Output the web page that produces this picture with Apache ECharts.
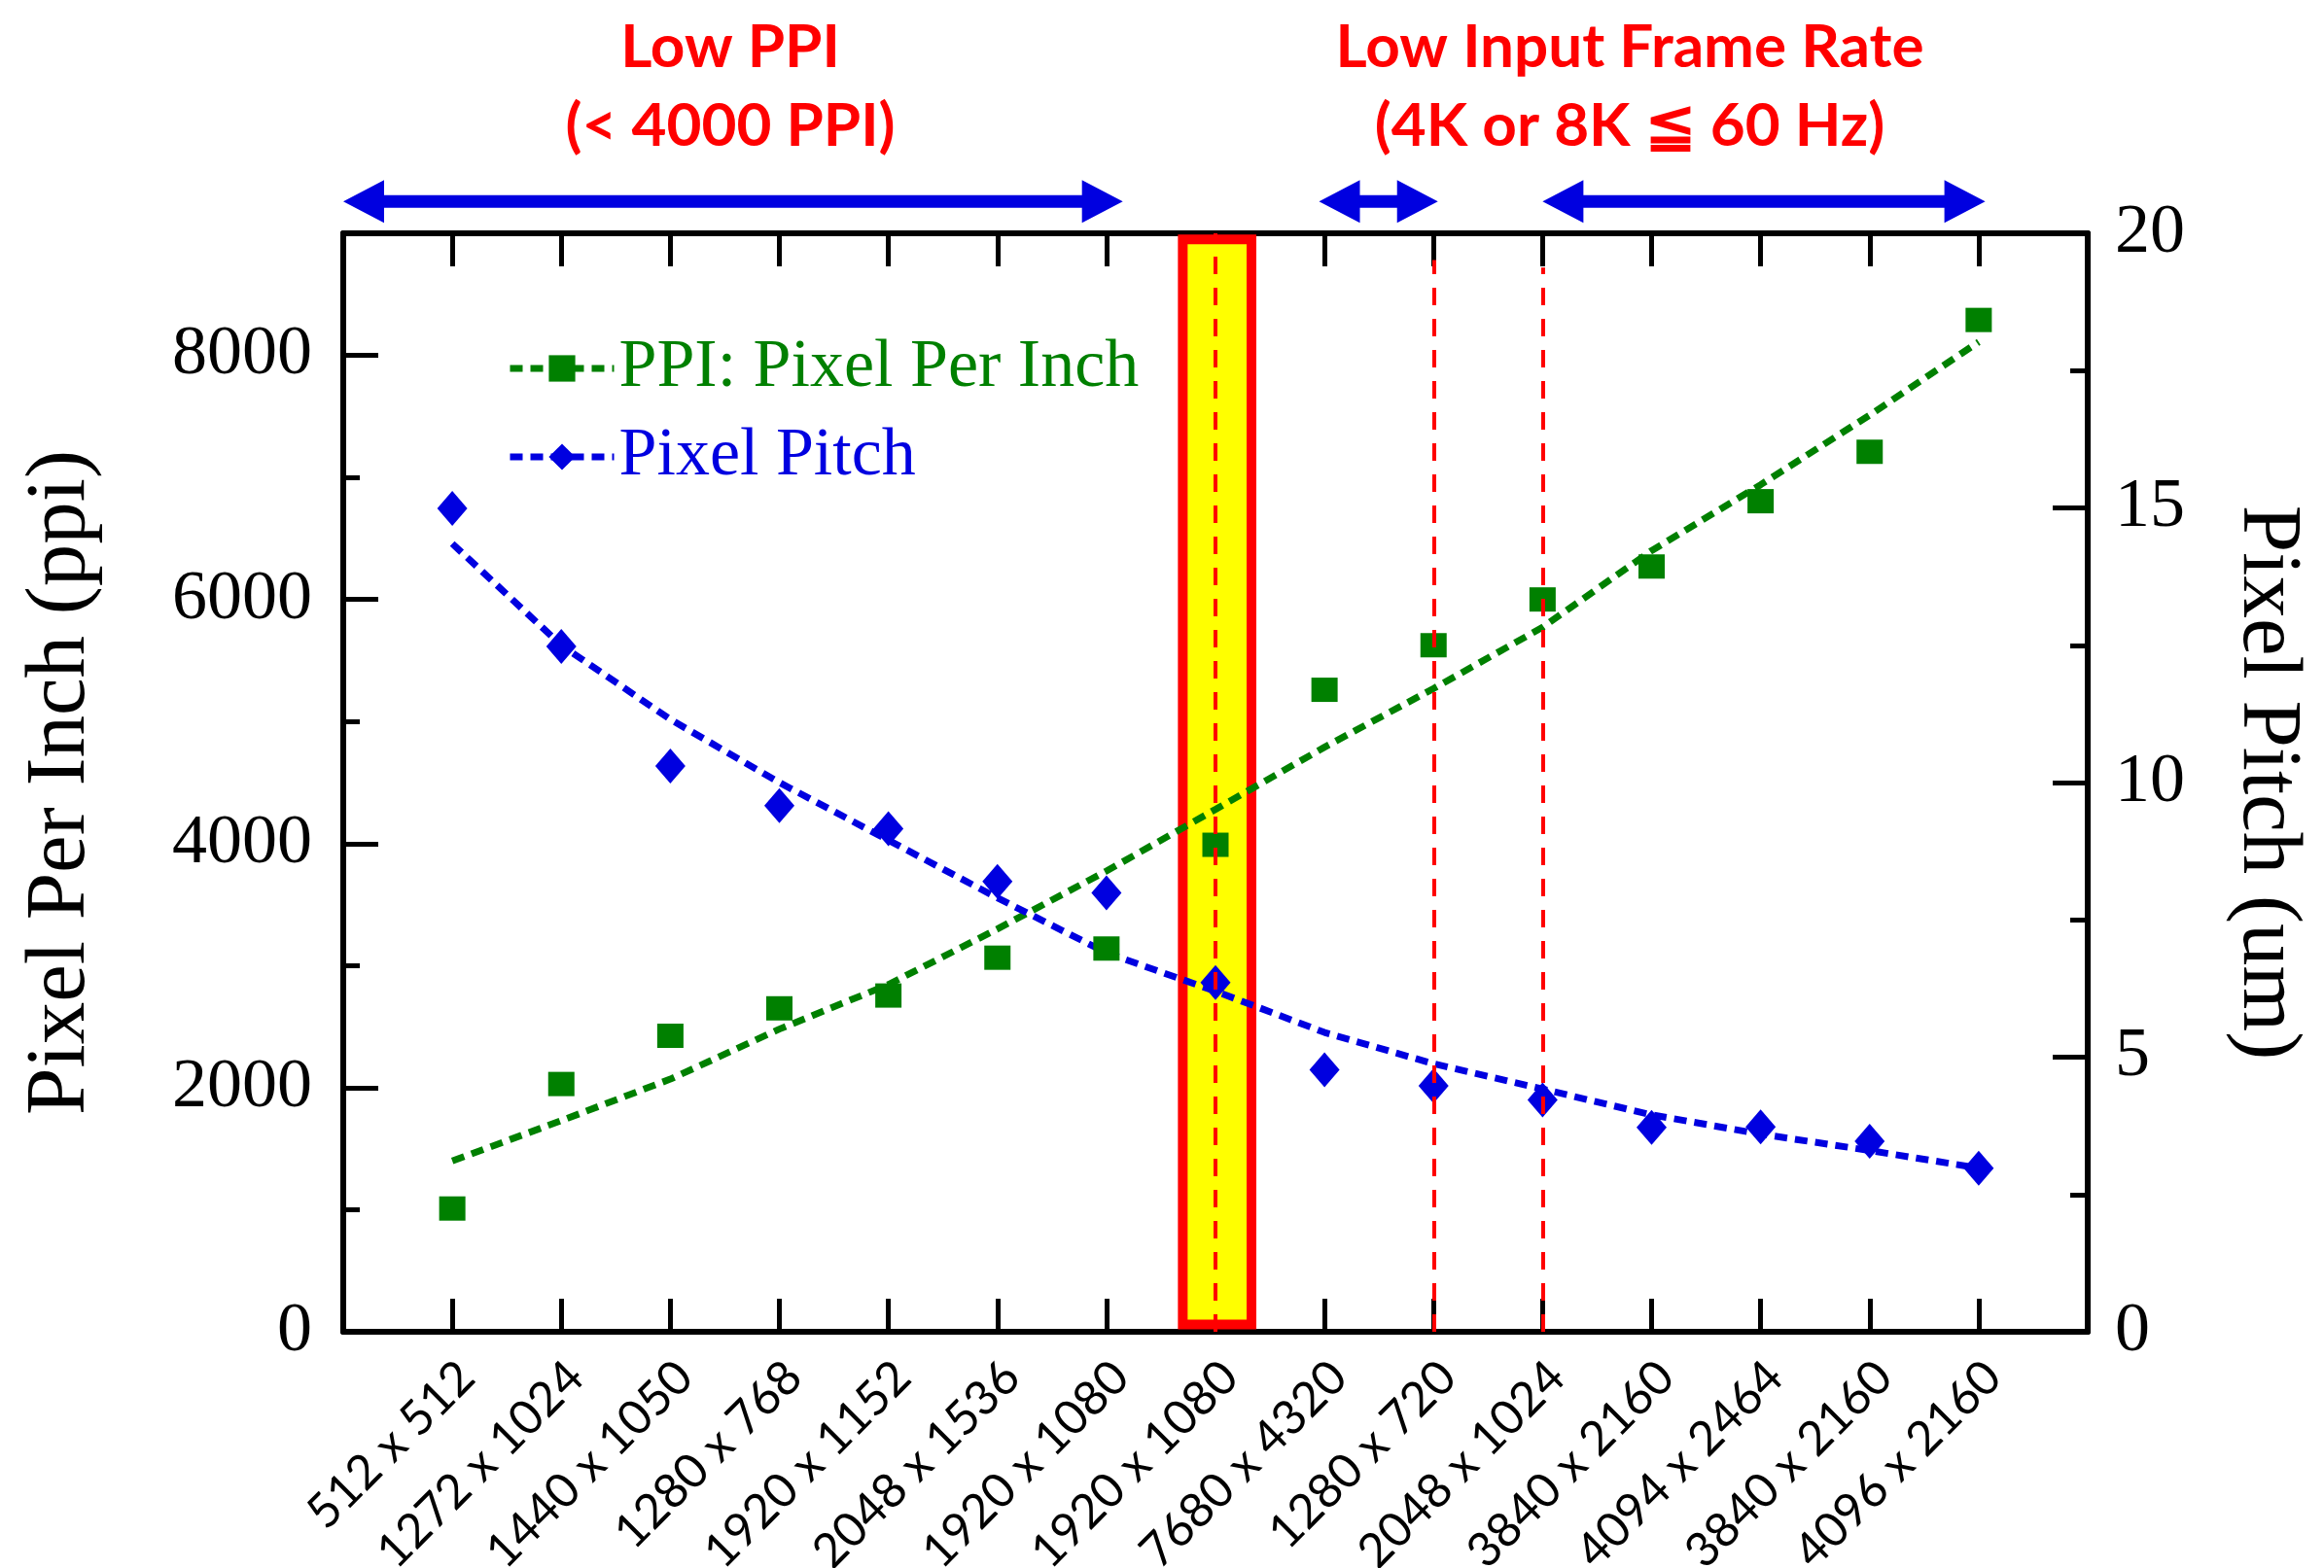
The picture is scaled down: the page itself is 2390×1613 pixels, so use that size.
<!DOCTYPE html>
<html>
<head>
<meta charset="utf-8">
<script src="https://cdn.jsdelivr.net/npm/echarts@6/dist/echarts.min.js"></script>
<style>
  html, body { margin: 0; background: #fff; }
  #chart { width: 2390px; height: 1613px; }
</style>
</head>
<body>
<div id="chart"></div>
<script>
// panel resolutions along the x axis
const resolutions = [
  '512 x 512', '1272 x 1024', '1440 x 1050', '1280 x 768', '1920 x 1152',
  '2048 x 1536', '1920 x 1080', '1920 x 1080', '7680 x 4320', '1280 x 720',
  '2048 x 1024', '3840 x 2160', '4094 x 2464', '3840 x 2160', '4096 x 2160'
];

// measured points and the dashed trend lines
const ppiMeasured = [1010, 2030, 2425, 2650, 2755, 3065, 3140, 3990, 5260, 5625, 6000, 6270, 6805, 7210, 8290];
const ppiTrend = [1400, 1730, 2070, 2480, 2845, 3300, 3775, 4280, 4790, 5270, 5772, 6400, 6940, 7510, 8110];
const pitchMeasured = [14.99, 12.48, 10.3, 9.58, 9.16, 8.2, 7.99, 6.36, 4.77, 4.48, 4.22, 3.72, 3.73, 3.47, 2.98];
const pitchTrend = [14.35, 12.5, 11.15, 10.0, 8.95, 7.9, 6.9, 6.2, 5.45, 4.88, 4.42, 3.95, 3.6, 3.3, 2.98];

const leftLabels = [0, 2000, 4000, 6000, 8000];

// annotations, in data units of the x axis / left y axis
const highlight = [7.7, 8.33];
const guides = [[8, 9000], [10, 8780], [11, 8720]];
const spans = [[0, 7.15], [8.95, 10.04], [11.0, 15.06]];
const notes = [
  { x: 3.55, lines: ['Low PPI', '(< 4000 PPI)'] },
  { x: 11.8, lines: ['Low Input Frame Rate', '(4K or 8K \u2266 60 Hz)'] }
];

const GREEN = '#008000';
const BLUE = '#0000e0';
const RED = '#ff0000';
const SERIF = 'Liberation Serif';
const SANS = 'Lato';

const xy = arr => arr.map((v, i) => [i + 1, v]);
const tickLine = () => ({ color: '#000', width: 5 });
const frame = () => ({ show: true, onZero: false, lineStyle: { color: '#000', width: 6 } });
const box = () => ({
  left: 353, right: 243, top: 240, bottom: 243,
  containLabel: false, outerBoundsMode: 'none'
});

const chart = echarts.init(document.getElementById('chart'));

chart.setOption({
  animation: false,
  grid: [box(), box()],
  xAxis: [
    {
      type: 'value', min: 0, max: 16, interval: 1, position: 'bottom',
      axisLine: frame(),
      axisTick: { show: true, inside: true, length: 34, lineStyle: tickLine() },
      splitLine: { show: false },
      axisLabel: {
        rotate: 45, margin: 24, fontFamily: SANS, fontSize: 49, color: '#000',
        verticalAlign: 'top', lineHeight: 42,
        formatter: v => resolutions[v - 1] || ''
      }
    },
    {
      type: 'value', min: 0, max: 16, interval: 1, position: 'top',
      axisLine: frame(),
      axisTick: { show: true, inside: true, length: 34, lineStyle: tickLine() },
      splitLine: { show: false },
      axisLabel: { show: false }
    },
    { gridIndex: 1, type: 'value', min: 0, max: 16, show: false }
  ],
  yAxis: [
    {
      type: 'value', min: 0, max: 9000, interval: 1000, position: 'left',
      axisLine: frame(),
      axisTick: { show: true, inside: true, length: 17, lineStyle: tickLine() },
      splitLine: { show: false },
      axisLabel: {
        margin: 32, fontFamily: SERIF, fontSize: 72, color: '#000',
        formatter: v => leftLabels.includes(v) ? String(v) : ''
      },
      name: 'Pixel Per Inch (ppi)', nameLocation: 'middle', nameGap: 246,
      nameTextStyle: { fontFamily: SERIF, fontSize: 87, color: '#000' }
    },
    {
      type: 'value', min: 0, max: 20, interval: 5, position: 'right',
      axisLine: frame(),
      axisTick: { show: true, inside: true, length: 36, lineStyle: tickLine() },
      minorTick: { show: true, splitNumber: 2, length: 18, lineStyle: tickLine() },
      splitLine: { show: false },
      minorSplitLine: { show: false },
      axisLabel: { margin: 28, fontFamily: SERIF, fontSize: 72, color: '#000' },
      name: 'Pixel Pitch (um)', nameLocation: 'middle', nameGap: 140, nameRotate: -90,
      nameTextStyle: { fontFamily: SERIF, fontSize: 87, color: '#000' }
    },
    {
      // longer ticks at the labelled thousands
      gridIndex: 1, type: 'value', min: 0, max: 9000, interval: 2000, position: 'left',
      axisLine: { show: false, onZero: false },
      axisTick: { show: true, inside: true, length: 36, lineStyle: tickLine() },
      splitLine: { show: false },
      axisLabel: { show: false }
    }
  ],
  legend: {
    orient: 'vertical', left: 521, top: 344, padding: 0,
    itemWidth: 107, itemHeight: 34, itemGap: 21,
    lineStyle: { width: 7 },
    textStyle: { fontFamily: SERIF, fontSize: 70 },
    data: [
      { name: 'PPI: Pixel Per Inch', textStyle: { color: GREEN } },
      { name: 'Pixel Pitch', textStyle: { color: BLUE } }
    ]
  },
  series: [
    {
      name: 'highlight', type: 'scatter', data: [], z: 1,
      markArea: {
        silent: true,
        itemStyle: { color: '#ffff00', borderColor: RED, borderWidth: 10, opacity: 1 },
        data: [[{ xAxis: highlight[0], yAxis: 60 }, { xAxis: highlight[1], yAxis: 8950 }]]
      }
    },
    {
      name: 'PPI: Pixel Per Inch', type: 'line', yAxisIndex: 0, data: xy(ppiTrend),
      symbol: 'rect', showSymbol: false, z: 3,
      lineStyle: { color: GREEN, width: 7, type: [13, 8] },
      itemStyle: { color: GREEN }
    },
    {
      name: 'Pixel Pitch', type: 'line', yAxisIndex: 1, data: xy(pitchTrend),
      symbol: 'diamond', showSymbol: false, z: 3,
      lineStyle: { color: BLUE, width: 7, type: [13, 8] },
      itemStyle: { color: BLUE }
    },
    {
      name: 'PPI measured', type: 'scatter', yAxisIndex: 0, data: xy(ppiMeasured),
      symbol: 'rect', symbolSize: [27, 25], itemStyle: { color: GREEN, opacity: 1 }, z: 4
    },
    {
      name: 'Pitch measured', type: 'scatter', yAxisIndex: 1, data: xy(pitchMeasured),
      symbol: 'diamond', symbolSize: [31, 36], itemStyle: { color: BLUE, opacity: 1 }, z: 4
    },
    {
      name: 'guides', type: 'scatter', data: [], z: 5,
      markLine: {
        silent: true, symbol: 'none', label: { show: false },
        lineStyle: { color: RED, width: 4, type: [18, 14] },
        data: guides.map(([x, top]) => [{ coord: [x, 0] }, { coord: [x, top] }])
      }
    }
  ]
});

// arrows and red notes above the plot, placed through the axes' scale
const px = (x, y) => chart.convertToPixel({ seriesIndex: 3 }, [x, y]);
const graphics = [];

spans.forEach(([a, b]) => {
  const [x1, y] = px(a, 9260);
  const [x2] = px(b, 9260);
  const head = 42, half = 22, s = 6.5;
  graphics.push({
    type: 'polygon',
    shape: {
      points: [
        [x1, y], [x1 + head, y - half], [x1 + head, y - s], [x2 - head, y - s],
        [x2 - head, y - half], [x2, y], [x2 - head, y + half], [x2 - head, y + s],
        [x1 + head, y + s], [x1 + head, y + half]
      ]
    },
    style: { fill: BLUE }
  });
});

notes.forEach(note => {
  note.lines.forEach((line, k) => {
    const [x, y] = px(note.x, k === 0 ? 10520 : 9875);
    graphics.push({
      type: 'text', x: x, y: y,
      style: {
        text: line, fill: RED, font: 'bold 62px ' + SANS,
        align: 'center', verticalAlign: 'middle'
      }
    });
  });
});

chart.setOption({ graphic: graphics });
</script>
</body>
</html>
